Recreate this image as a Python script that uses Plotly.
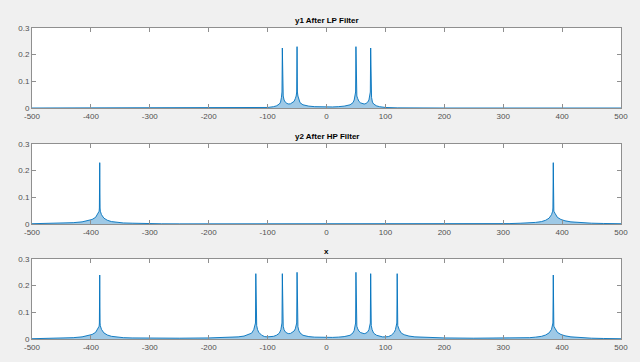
import plotly.graph_objects as go

# ---------------- data ----------------
titles = ["y1 After LP Filter", "y2 After HP Filter", "x"]

x_ticks = [-500, -400, -300, -200, -100, 0, 100, 200, 300, 400, 500]
y_ticks = [0, 0.1, 0.2, 0.3]

# y1 after low-pass filter: magnitude spectrum envelope
lp_freq = [-500, -200, -120, -100, -90, -85, -80, -78, -76.5, -75.6, -75, -74.4, -73.5, -72, -70,
           -67, -64, -61, -58, -55, -53, -51.5, -50.6, -50, -49.4, -48.5, -47, -45, -40, -30,
           -20, -10, 0, 10, 20, 30, 40, 45, 47, 48.5, 49.4, 50, 50.6, 51.5, 53, 55, 58, 61, 64,
           67, 70, 72, 73.5, 74.4, 75, 75.6, 76.5, 78, 80, 85, 90, 100, 120, 200, 500]
lp_mag = [0, 0, 0.0005, 0.002, 0.005, 0.008, 0.015, 0.022, 0.04, 0.06, 0.225, 0.06, 0.045, 0.03, 0.022,
          0.017, 0.015, 0.016, 0.019, 0.025, 0.035, 0.045, 0.06, 0.23, 0.06, 0.045, 0.03, 0.02, 0.012, 0.007,
          0.005, 0.004, 0.004, 0.004, 0.005, 0.007, 0.012, 0.02, 0.03, 0.045, 0.06, 0.23, 0.06, 0.045, 0.035,
          0.025, 0.019, 0.016, 0.015, 0.017, 0.022, 0.03, 0.045, 0.06, 0.225, 0.06, 0.04, 0.022, 0.015, 0.008,
          0.005, 0.002, 0.0005, 0, 0]

# y2 after high-pass filter
hp_freq = [-500, -470, -450, -430, -415, -405, -398, -392, -388, -386, -385.6, -385, -384.4, -384,
           -382, -378, -372, -365, -355, -345, -330, -310, -280, -250, 0, 250, 280, 310, 330, 345,
           355, 365, 372, 378, 382, 384, 384.4, 385, 385.6, 386, 388, 392, 398, 405, 415, 430, 450,
           470, 500]
hp_mag = [0.001, 0.002, 0.003, 0.005, 0.008, 0.012, 0.017, 0.025, 0.04, 0.048, 0.06, 0.23, 0.06, 0.048,
          0.035, 0.022, 0.014, 0.009, 0.006, 0.004, 0.003, 0.0015, 0.0008, 0.0005, 0.0003, 0.0005, 0.0008,
          0.0015, 0.003, 0.004, 0.006, 0.009, 0.014, 0.022, 0.035, 0.048, 0.06, 0.23, 0.06, 0.048, 0.04,
          0.025, 0.017, 0.012, 0.008, 0.005, 0.003, 0.002, 0.001]

# x (original signal)
x_freq = [-500, -470, -450, -430, -415, -405, -398, -392, -388, -386, -385.6, -385, -384.4, -384,
          -382, -378, -372, -365, -355, -345, -330, -300, -250, -200, -170, -150, -140, -132, -127,
          -123.5, -121, -120.6, -120, -119.4, -118.5, -117, -115, -110, -105, -100, -95, -90, -85,
          -80, -77.5, -76, -75.6, -75, -74.4, -73.5, -72, -70, -67, -64, -61, -58, -55, -53, -51.5,
          -50.6, -50, -49.4, -48.5, -47, -45, -40, -30, -20, -10, 0,
          10, 20, 30, 40, 45, 47, 48.5, 49.4, 50, 50.6, 51.5, 53, 55, 58, 61, 64, 67, 70, 72, 73.5,
          74.4, 75, 75.6, 76, 77.5, 80, 85, 90, 95, 100, 105, 110, 115, 117, 118.5, 119.4, 120,
          120.6, 121, 123.5, 127, 132, 140, 150, 170, 200, 250, 300, 330, 345, 355, 365, 372, 378,
          382, 384, 384.4, 385, 385.6, 386, 388, 392, 398, 405, 415, 430, 450, 470, 500]
x_mag = [0.001, 0.002, 0.003, 0.005, 0.008, 0.012, 0.017, 0.025, 0.04, 0.048, 0.06, 0.24, 0.06, 0.05,
         0.036, 0.023, 0.015, 0.01, 0.007, 0.005, 0.004, 0.003, 0.003, 0.004, 0.006, 0.008, 0.011, 0.016,
         0.022, 0.035, 0.05, 0.06, 0.245, 0.06, 0.05, 0.035, 0.025, 0.014, 0.009, 0.008, 0.008, 0.01, 0.014,
         0.022, 0.035, 0.05, 0.06, 0.245, 0.06, 0.048, 0.035, 0.027, 0.022, 0.02, 0.021, 0.024, 0.03,
         0.038, 0.048, 0.06, 0.25, 0.06, 0.046, 0.032, 0.023, 0.014, 0.009, 0.007, 0.006, 0.006,
         0.006, 0.007, 0.009, 0.014, 0.023, 0.032, 0.046, 0.06, 0.25, 0.06, 0.048, 0.038, 0.03, 0.024,
         0.021, 0.02, 0.022, 0.027, 0.035, 0.048, 0.06, 0.245, 0.06, 0.05, 0.035, 0.022, 0.014, 0.01,
         0.008, 0.008, 0.009, 0.014, 0.025, 0.035, 0.05, 0.06, 0.245, 0.06, 0.05, 0.035, 0.022, 0.016,
         0.011, 0.008, 0.006, 0.004, 0.003, 0.003, 0.004, 0.005, 0.007, 0.01, 0.015, 0.023, 0.036, 0.05,
         0.06, 0.24, 0.06, 0.048, 0.04, 0.025, 0.017, 0.012, 0.008, 0.005, 0.003, 0.002, 0.001]

series = [(lp_freq, lp_mag), (hp_freq, hp_mag), (x_freq, x_mag)]

# ---------------- figure ----------------
W, H = 640, 362
ml, mr, mt, mb = 32, 19, 28, 23
plot_h = H - mt - mb
# panels 80px tall, with tops at 28, 144, 259
panel_px = [(28, 108), (144, 224), (259, 339)]
domains = [((H - mb - b) / plot_h, (H - mb - t) / plot_h) for (t, b) in panel_px]

fig = go.Figure()
blue = "#0072BD"
axis_col = "#8f8f8f"
font_fam = "Liberation Sans, Arial, sans-serif"

for i, (fx, fy) in enumerate(series):
    n = "" if i == 0 else str(i + 1)
    fig.add_trace(go.Scatter(
        x=fx, y=fy, mode="lines",
        line=dict(color=blue, width=0.9),
        fill="tozeroy", fillcolor="rgba(0,114,189,0.38)",
        xaxis="x" + n, yaxis="y" + n, showlegend=False, hoverinfo="skip"))
    lo, hi = domains[i]
    fig.layout["xaxis" + n] = dict(
        domain=[0, 1], anchor="y" + n, range=[-500, 500],
        tickvals=x_ticks, ticktext=[str(v) for v in x_ticks],
        ticks="inside", ticklen=4, tickcolor=axis_col, mirror="ticks",
        showline=True, linecolor=axis_col, linewidth=1, showgrid=False, zeroline=False,
        tickfont=dict(size=8, color="#505050", family=font_fam))
    fig.layout["yaxis" + n] = dict(
        domain=[lo, hi], anchor="x" + n, range=[0, 0.3],
        tickvals=y_ticks, ticktext=["0", "0.1", "0.2", "0.3"],
        ticks="inside", ticklen=4, tickcolor=axis_col, mirror="ticks",
        showline=True, linecolor=axis_col, linewidth=1, showgrid=False, zeroline=False,
        tickfont=dict(size=8, color="#505050", family=font_fam))
    fig.add_annotation(
        text="<b>" + titles[i] + "</b>", x=0.5, y=hi, xref="paper", yref="paper",
        xanchor="center", yanchor="bottom", yshift=1, showarrow=False,
        font=dict(size=8, color="#000000", family=font_fam))

fig.update_layout(
    width=W, height=H,
    margin=dict(l=ml, r=mr, t=mt, b=mb, autoexpand=False),
    paper_bgcolor="#f0f0f0", plot_bgcolor="#ffffff",
    font=dict(family=font_fam),
)

fig.write_html("out.html", config={"displayModeBar": False},
               post_script="document.body.style.margin='0';document.body.style.background='#f0f0f0';")
